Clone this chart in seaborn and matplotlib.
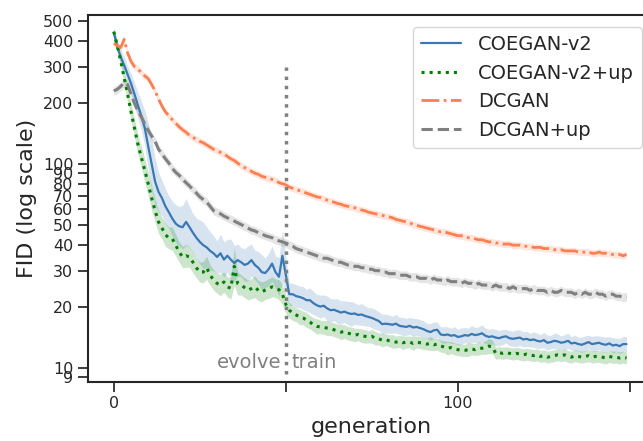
import numpy as np
import pandas as pd
import matplotlib
matplotlib.use("Agg")
import matplotlib.pyplot as plt
import seaborn as sns

# FID per generation (mean over runs) for each model
generations = list(range(150))

coegan_v2 = [
    440, 375, 335, 305, 275, 248, 220, 194, 172, 150,
    122, 100, 82, 73, 68, 62, 58, 54, 51, 49.5,
    49, 52, 49, 46, 43.5, 41.5, 40, 39, 37.5, 36.5,
    35, 36.5, 34, 35.5, 34, 32.7, 33.8, 33, 32, 32.5,
    33.8, 32, 31, 29.5, 29.2, 30.5, 32.5, 29.5, 28, 35.5,
    28.5, 23, 23, 22.5, 22.3, 22, 21.5, 21.5, 20.8, 20.3,
    20, 20.2, 19.6, 19.2, 19.3, 19, 18.7, 18.9, 18.6, 18.4,
    18.5, 18.2, 18.3, 18, 17.8, 17.6, 17.3, 17, 16.4, 16.5,
    16.4, 16.3, 16.5, 16.1, 16, 15.9, 16.1, 15.8, 15.9, 15.7,
    15.5, 15.2, 15, 15.3, 15.4, 14.6, 14.5, 14.6, 14.4, 14.5,
    14.2, 14.3, 14.5, 14.4, 14.7, 14.5, 14.6, 14.8, 14.4, 14.2,
    14.3, 14.1, 14, 14.2, 14.3, 14, 13.9, 14, 14.1, 13.8,
    13.9, 13.7, 13.8, 13.6, 13.5, 13.7, 13.3, 13.4, 13.6, 13.5,
    13.3, 13.4, 13.6, 13.2, 13.3, 13.1, 13, 13.2, 13.4, 13.1,
    13.2, 13.3, 13.1, 13, 13.2, 12.9, 13, 12.8, 13.1, 13.1,
]

coegan_v2_up = [
    445, 380, 320, 265, 220, 180, 150, 125, 108, 93,
    80, 68, 59, 52, 48.5, 45, 43.4, 43, 40, 37,
    35, 35.5, 35, 33, 31, 29.5, 29.5, 31, 28.5, 27,
    26, 25.5, 26.4, 25, 24.6, 31.5, 26, 25.5, 24.8, 24.1,
    24.5, 25, 24, 23.6, 24.1, 24.5, 25, 24.6, 24.2, 23,
    20.5, 19.2, 18.6, 18.2, 17.8, 17.6, 17.2, 16.8, 16.3, 16,
    15.9, 15.8, 15.7, 15.6, 15.4, 15.2, 15, 15.1, 14.8, 14.7,
    14.5, 14.6, 14.4, 14.3, 14.2, 14.3, 14, 13.9, 13.7, 13.8,
    13.6, 13.5, 13.4, 13.5, 13.3, 13.4, 13.4, 13.2, 13.4, 13.3,
    13.2, 13.1, 13.2, 13, 13.1, 12.8, 12.7, 12.5, 12.6, 12.4,
    12.3, 12.2, 12.2, 12.3, 12.4, 12.3, 12.5, 12.5, 12.6, 12.8,
    12.7, 11.8, 11.9, 11.8, 11.9, 11.8, 11.7, 11.8, 11.7, 11.6,
    11.7, 11.6, 11.5, 11.6, 11.4, 11.5, 11.3, 11.4, 11.5, 11.6,
    11.5, 11.6, 11.4, 11.3, 11.5, 11.4, 11.3, 11.4, 11.5, 11.3,
    11.4, 11.4, 11.3, 11.2, 11.4, 11.3, 11.3, 11.2, 11.3, 11.2,
]

dcgan = [
    390, 380, 372, 408, 350, 318, 300, 292, 280, 270,
    262, 245, 228, 208, 192, 180, 172, 165, 158, 152,
    147, 143, 138, 135, 132, 129, 127, 124, 121, 118,
    116, 114, 112, 109, 106, 104, 101, 98, 96, 94,
    92, 90, 89, 87, 86, 85, 84, 83, 81, 80,
    79, 77, 76, 75, 74, 73, 72, 71, 70, 69,
    68.5, 67.5, 66.5, 65.5, 65, 64, 63.5, 62.5, 62, 61.5,
    61, 60, 59.5, 59, 58, 57.5, 57, 56.5, 56, 55.5,
    55, 54.5, 53.5, 53, 52.5, 52, 51.5, 50.5, 50, 49.5,
    49, 48.5, 48, 47.5, 47, 46.5, 46.5, 46, 45.5, 45,
    44.5, 44.5, 44, 43.5, 43.5, 43, 42.5, 42.5, 42, 41.5,
    41.5, 41, 41, 40.5, 40.5, 40.5, 40, 40, 40, 39.5,
    39.5, 39.5, 39, 39, 39, 38.5, 38.5, 38.5, 38, 38,
    38, 37.5, 37.5, 37.5, 37.5, 37, 37, 37, 37, 36.5,
    36.5, 37, 36.5, 36.5, 36.5, 36, 36, 36, 35.5, 36,
]

dcgan_up = [
    228, 232, 240, 250, 245, 220, 198, 182, 170, 157,
    146, 137, 129, 118, 112, 106, 101, 95, 91, 88,
    84, 81, 78, 75, 72, 69, 67, 65, 62, 59,
    58, 57, 55.5, 54.5, 53.5, 52.5, 51.5, 50.5, 49.5, 48.5,
    47.5, 47, 46, 45.5, 44.5, 44, 43.5, 42.5, 42, 41.5,
    41, 40, 39.5, 38.5, 38, 37.5, 37, 36.5, 36, 35.5,
    35, 34.5, 34.5, 34, 33.5, 33, 33, 32.5, 32, 32,
    31.5, 31.5, 31, 31, 30.5, 30.5, 30, 30, 29.5, 29.5,
    29, 29, 29, 28.5, 28.5, 28.5, 28, 28, 28, 27.5,
    27.5, 27.5, 27, 27.5, 27, 27, 26.5, 27, 26.5, 26.5,
    26.5, 26, 26.5, 26, 26, 25.5, 26, 25.5, 25.5, 25.5,
    25, 25.5, 25, 25, 25, 24.5, 25, 24.5, 24.5, 24.5,
    24.5, 24, 24.5, 24, 24, 24, 23.5, 24, 23.5, 23.5,
    24, 23.5, 23.5, 23.5, 23, 23.5, 23, 23.5, 23, 23,
    23.5, 23, 23, 22.5, 23, 23, 22.5, 22.5, 22.2, 22.3,
]

# relative half-width of the confidence band around each mean
coegan_v2_spread = [
    0.05, 0.06, 0.08, 0.10, 0.10, 0.12, 0.14, 0.16, 0.18, 0.22,
    0.30, 0.35, 0.30, 0.25, 0.22, 0.22, 0.20, 0.22, 0.24, 0.25,
    0.28, 0.30, 0.26, 0.24, 0.25, 0.28, 0.30, 0.26, 0.24, 0.22,
    0.20, 0.24, 0.22, 0.20, 0.26, 0.22, 0.20, 0.18, 0.20, 0.22,
    0.20, 0.18, 0.20, 0.22, 0.18, 0.20, 0.22, 0.20, 0.24, 0.35,
    0.22, 0.14, 0.13, 0.14, 0.13, 0.14, 0.13, 0.15, 0.14, 0.13,
    0.14, 0.13, 0.15, 0.14, 0.13, 0.15, 0.14, 0.13, 0.14, 0.15,
    0.13, 0.12, 0.13, 0.12, 0.11, 0.12, 0.12, 0.11, 0.12, 0.11,
    0.11, 0.10, 0.11, 0.10, 0.11, 0.10, 0.10, 0.11, 0.10, 0.10,
    0.10, 0.09, 0.10, 0.10, 0.09, 0.09, 0.10, 0.09, 0.09, 0.10,
    0.09, 0.10, 0.09, 0.09, 0.10, 0.09, 0.09, 0.10, 0.09, 0.09,
    0.09, 0.10, 0.09, 0.09, 0.08, 0.09, 0.09, 0.10, 0.09, 0.09,
    0.09, 0.08, 0.09, 0.09, 0.08, 0.09, 0.09, 0.08, 0.09, 0.09,
    0.08, 0.09, 0.09, 0.08, 0.09, 0.08, 0.09, 0.09, 0.08, 0.09,
    0.09, 0.08, 0.09, 0.09, 0.08, 0.09, 0.08, 0.09, 0.09, 0.09,
]

coegan_v2_up_spread = [
    0.05, 0.06, 0.07, 0.08, 0.09, 0.10, 0.11, 0.12, 0.13, 0.14,
    0.14, 0.15, 0.14, 0.14, 0.13, 0.14, 0.13, 0.14, 0.13, 0.12,
    0.13, 0.14, 0.12, 0.13, 0.12, 0.12, 0.13, 0.14, 0.12, 0.12,
    0.12, 0.13, 0.12, 0.12, 0.13, 0.24, 0.14, 0.12, 0.12, 0.12,
    0.12, 0.13, 0.12, 0.12, 0.11, 0.12, 0.12, 0.11, 0.12, 0.12,
    0.11, 0.09, 0.09, 0.08, 0.09, 0.08, 0.09, 0.08, 0.08, 0.09,
    0.08, 0.08, 0.09, 0.08, 0.08, 0.08, 0.09, 0.08, 0.08, 0.08,
    0.08, 0.07, 0.08, 0.08, 0.07, 0.08, 0.08, 0.07, 0.08, 0.07,
    0.07, 0.08, 0.07, 0.07, 0.08, 0.07, 0.07, 0.08, 0.07, 0.07,
    0.07, 0.07, 0.08, 0.07, 0.07, 0.07, 0.07, 0.08, 0.07, 0.07,
    0.07, 0.07, 0.07, 0.08, 0.07, 0.07, 0.08, 0.07, 0.08, 0.09,
    0.08, 0.07, 0.07, 0.07, 0.07, 0.07, 0.07, 0.07, 0.07, 0.07,
    0.07, 0.07, 0.07, 0.07, 0.07, 0.07, 0.07, 0.07, 0.07, 0.07,
    0.07, 0.07, 0.07, 0.07, 0.07, 0.07, 0.07, 0.07, 0.07, 0.07,
    0.07, 0.07, 0.07, 0.07, 0.07, 0.07, 0.07, 0.07, 0.07, 0.07,
]

dcgan_spread = 0.04
dcgan_up_spread = 0.05

series_names = ["COEGAN-v2", "COEGAN-v2+up", "DCGAN", "DCGAN+up"]
series_values = [coegan_v2, coegan_v2_up, dcgan, dcgan_up]
series_spreads = [coegan_v2_spread, coegan_v2_up_spread,
                  [dcgan_spread] * len(generations),
                  [dcgan_up_spread] * len(generations)]
series_colors = ["#3a78b4", "green", "coral", "gray"]
series_styles = ["-", ":", "-.", "--"]
series_widths = [1.6, 2.2, 2.0, 2.2]

y_ticks = [9, 10, 20, 30, 40, 50, 60, 70, 80, 90, 100, 200, 300, 400, 500]
x_ticks = [0, 50, 100, 150]
x_tick_labels = ["0", "", "100", ""]

split_generation = 50

sns.set_theme(style="ticks")
plt.rcParams["font.family"] = ["DejaVu Sans"]

fig = plt.figure(figsize=(6.43, 4.41), dpi=100)
ax = fig.add_axes([88 / 643, 1 - 381.7 / 441, 566 / 643, (381.7 - 15) / 441])

for name, vals, spread, color, ls, lw in zip(series_names, series_values, series_spreads,
                                             series_colors, series_styles, series_widths):
    v = np.asarray(vals, dtype=float)
    s = np.asarray(spread, dtype=float)
    df = pd.DataFrame({"generation": generations, "FID": v})
    sns.lineplot(data=df, x="generation", y="FID", color=color, linestyle=ls,
                 linewidth=lw, label=name, ax=ax)
    ax.fill_between(generations, v / (1 + s), v * (1 + s), color=color, alpha=0.2, lw=0)

ax.set_yscale("log")
ax.set_xlim(-7.5, 157)
ax.set_ylim(8.57, 537)
ax.yaxis.set_major_locator(matplotlib.ticker.FixedLocator(y_ticks))
ax.yaxis.set_major_formatter(matplotlib.ticker.FixedFormatter([str(t) for t in y_ticks]))
ax.yaxis.set_minor_locator(matplotlib.ticker.NullLocator())
ax.set_xticks(x_ticks)
ax.set_xticklabels(x_tick_labels)
ax.tick_params(axis="both", labelsize=11.5, colors="#262626", length=7, width=1.25)

ax.vlines(split_generation, 9.4, 300, colors="gray", linestyles=":", linewidth=2.5)
ax.text(split_generation - 1.2, 10.0, "evolve", ha="right", va="baseline",
        color="gray", fontsize=14)
ax.text(split_generation + 1.6, 10.0, "train", ha="left", va="baseline",
        color="gray", fontsize=14)

ax.set_xlabel("generation", fontsize=16)
ax.set_ylabel("FID (log scale)", fontsize=16)

for sp in ax.spines.values():
    sp.set_linewidth(1.5)
    sp.set_color("#262626")

ax.legend(loc="upper right", fontsize=14, frameon=True, handlelength=2.05,
          handletextpad=0.9, borderaxespad=0.62)

fig.savefig("out.png", dpi=100)
